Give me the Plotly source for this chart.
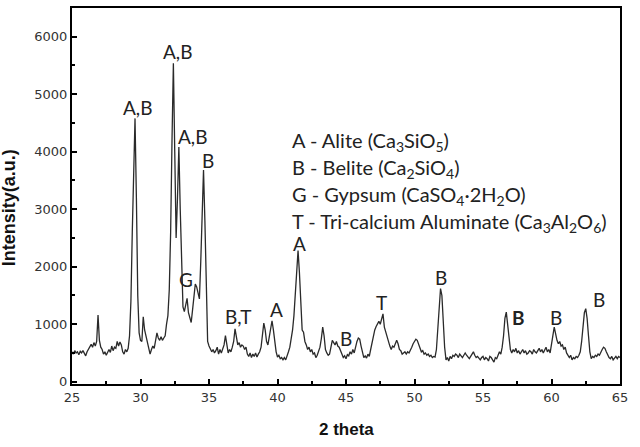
import plotly.graph_objects as go

# XRD pattern
two_theta = [
    25.0, 25.1, 25.2, 25.3, 25.4, 25.5, 25.6, 25.7, 25.8, 25.9,
    26.0, 26.1, 26.2, 26.3, 26.4, 26.5, 26.6, 26.7, 26.8, 26.9,
    27.0, 27.1, 27.2, 27.3, 27.4, 27.5, 27.6, 27.7, 27.8, 27.9,
    28.0, 28.1, 28.2, 28.3, 28.4, 28.5, 28.6, 28.7, 28.8, 28.9,
    29.0, 29.1, 29.2, 29.3, 29.4, 29.5, 29.6, 29.7, 29.8, 29.9,
    30.0, 30.1, 30.2, 30.3, 30.4, 30.5, 30.6, 30.7, 30.8, 30.9,
    31.0, 31.1, 31.2, 31.3, 31.4, 31.5, 31.6, 31.7, 31.8, 31.9,
    32.0, 32.1, 32.2, 32.3, 32.4, 32.5, 32.6, 32.7, 32.8, 32.9,
    33.0, 33.1, 33.2, 33.3, 33.4, 33.5, 33.6, 33.7, 33.8, 33.9,
    34.0, 34.1, 34.2, 34.3, 34.4, 34.5, 34.6, 34.7, 34.8, 34.9,
    35.0, 35.1, 35.2, 35.3, 35.4, 35.5, 35.6, 35.7, 35.8, 35.9,
    36.0, 36.1, 36.2, 36.3, 36.4, 36.5, 36.6, 36.7, 36.8, 36.9,
    37.0, 37.1, 37.2, 37.3, 37.4, 37.5, 37.6, 37.7, 37.8, 37.9,
    38.0, 38.1, 38.2, 38.3, 38.4, 38.5, 38.6, 38.7, 38.8, 38.9,
    39.0, 39.1, 39.2, 39.3, 39.4, 39.5, 39.6, 39.7, 39.8, 39.9,
    40.0, 40.1, 40.2, 40.3, 40.4, 40.5, 40.6, 40.7, 40.8, 40.9,
    41.0, 41.1, 41.2, 41.3, 41.4, 41.5, 41.6, 41.7, 41.8, 41.9,
    42.0, 42.1, 42.2, 42.3, 42.4, 42.5, 42.6, 42.7, 42.8, 42.9,
    43.0, 43.1, 43.2, 43.3, 43.4, 43.5, 43.6, 43.7, 43.8, 43.9,
    44.0, 44.1, 44.2, 44.3, 44.4, 44.5, 44.6, 44.7, 44.8, 44.9,
    45.0, 45.1, 45.2, 45.3, 45.4, 45.5, 45.6, 45.7, 45.8, 45.9,
    46.0, 46.1, 46.2, 46.3, 46.4, 46.5, 46.6, 46.7, 46.8, 46.9,
    47.0, 47.1, 47.2, 47.3, 47.4, 47.5, 47.6, 47.7, 47.8, 47.9,
    48.0, 48.1, 48.2, 48.3, 48.4, 48.5, 48.6, 48.7, 48.8, 48.9,
    49.0, 49.1, 49.2, 49.3, 49.4, 49.5, 49.6, 49.7, 49.8, 49.9,
    50.0, 50.1, 50.2, 50.3, 50.4, 50.5, 50.6, 50.7, 50.8, 50.9,
    51.0, 51.1, 51.2, 51.3, 51.4, 51.5, 51.6, 51.7, 51.8, 51.9,
    52.0, 52.1, 52.2, 52.3, 52.4, 52.5, 52.6, 52.7, 52.8, 52.9,
    53.0, 53.1, 53.2, 53.3, 53.4, 53.5, 53.6, 53.7, 53.8, 53.9,
    54.0, 54.1, 54.2, 54.3, 54.4, 54.5, 54.6, 54.7, 54.8, 54.9,
    55.0, 55.1, 55.2, 55.3, 55.4, 55.5, 55.6, 55.7, 55.8, 55.9,
    56.0, 56.1, 56.2, 56.3, 56.4, 56.5, 56.6, 56.7, 56.8, 56.9,
    57.0, 57.1, 57.2, 57.3, 57.4, 57.5, 57.6, 57.7, 57.8, 57.9,
    58.0, 58.1, 58.2, 58.3, 58.4, 58.5, 58.6, 58.7, 58.8, 58.9,
    59.0, 59.1, 59.2, 59.3, 59.4, 59.5, 59.6, 59.7, 59.8, 59.9,
    60.0, 60.1, 60.2, 60.3, 60.4, 60.5, 60.6, 60.7, 60.8, 60.9,
    61.0, 61.1, 61.2, 61.3, 61.4, 61.5, 61.6, 61.7, 61.8, 61.9,
    62.0, 62.1, 62.2, 62.3, 62.4, 62.5, 62.6, 62.7, 62.8, 62.9,
    63.0, 63.1, 63.2, 63.3, 63.4, 63.5, 63.6, 63.7, 63.8, 63.9,
    64.0, 64.1, 64.2, 64.3, 64.4, 64.5, 64.6, 64.7, 64.8, 64.9,
    65.0,
]

intensity = [
    520, 480, 540, 500, 520, 470, 530, 500, 540, 480,
    450, 520, 560, 610, 650, 600, 680, 620, 700, 1160,
    720, 600, 560, 480, 520, 460, 500, 560, 510, 620,
    540, 600, 580, 700, 620, 690, 640, 520, 480, 560,
    520, 580, 800, 1400, 2600, 3900, 4580, 3200, 1500, 850,
    720, 700, 1130, 900, 780, 700, 560, 480, 560, 620,
    580, 720, 850, 760, 720, 780, 720, 760, 800, 1000,
    1150, 1600, 2600, 4200, 5540, 4000, 2500, 3200, 4080, 3000,
    1900, 1300, 1220, 1350, 1450, 1200, 1100, 1030, 1250, 1500,
    1700, 1650, 1550, 1440, 2100, 3000, 3680, 2800, 1500, 700,
    620, 580, 520, 560, 500, 540, 600, 480, 560, 500,
    580, 640, 800, 620, 500, 560, 520, 600, 700, 920,
    780, 640, 680, 600, 640, 620, 560, 600, 480, 440,
    500, 420, 480, 440, 500, 430, 480, 520, 600, 850,
    1020, 900, 700, 640, 800, 980, 1060, 900, 700, 520,
    430, 460, 400, 420, 380, 420, 380, 440, 520, 600,
    750, 900, 1150, 1500, 1900, 2280, 1900, 1300, 900, 860,
    700, 640, 560, 600, 520, 560, 480, 500, 420, 460,
    520, 600, 750, 950, 800, 560, 500, 460, 480, 600,
    720, 680, 640, 700, 620, 600, 520, 480, 420, 450,
    400, 470, 450, 520, 480, 560, 500, 620, 700, 760,
    740, 620, 500, 420, 450, 410, 480, 440, 560, 680,
    800, 900, 960, 1000, 1050, 1000, 1120, 1180, 950, 860,
    800, 700, 620, 560, 620, 600, 680, 720, 660, 560,
    540, 480, 500, 520, 480, 520, 500, 540, 600, 660,
    700, 740, 720, 640, 560, 520, 540, 480, 500, 460,
    480, 440, 460, 420, 440, 430, 560, 900, 1300, 1620,
    1500, 1000, 600, 380, 420, 360, 440, 400, 460, 440,
    480, 460, 420, 480, 440, 420, 460, 500, 460, 420,
    400, 440, 480, 520, 460, 420, 440, 400, 380, 420,
    440, 380, 420, 400, 360, 440, 420, 380, 340, 420,
    400, 460, 520, 480, 600, 800, 1100, 1210, 1000, 700,
    560, 500, 560, 520, 580, 500, 540, 480, 520, 560,
    500, 540, 480, 500, 540, 520, 480, 560, 520, 500,
    540, 580, 520, 560, 500, 540, 600, 520, 560, 500,
    620, 800, 950, 820, 720, 660, 700, 620, 640, 560,
    600, 500, 460, 420, 460, 380, 420, 400, 440, 420,
    460, 520, 700, 1000, 1200, 1270, 1100, 800, 520, 400,
    440, 420, 460, 440, 480, 460, 520, 560, 600, 580,
    520, 460, 420, 400, 440, 380, 420, 440, 400, 440,
    420,
]

# phase labels above the peaks
label_text = ["A,B", "A,B", "A,B", "B", "G", "B,T", "A", "A", "B", "T", "B", "<b>B</b>", "B", "B"]
label_x = [29.8, 32.7, 33.8, 34.9, 33.3, 37.1, 39.9, 41.6, 45.0, 47.6, 51.9, 57.6, 60.3, 63.5]
label_y = [4770, 5740, 4270, 3840, 1770, 1130, 1250, 2400, 750, 1370, 1820, 1110, 1110, 1430]

legend_lines = [
    "A - Alite (Ca<sub>3</sub>SiO<sub>5</sub>)",
    "B - Belite (Ca<sub>2</sub>SiO<sub>4</sub>)",
    "G - Gypsum (CaSO<sub>4</sub>·2H<sub>2</sub>O)",
    "T - Tri-calcium Aluminate (Ca<sub>3</sub>Al<sub>2</sub>O<sub>6</sub>)",
]
legend_y = [4170, 3700, 3235, 2775]

fig = go.Figure()
fig.add_trace(go.Scatter(x=two_theta, y=intensity, mode="lines",
                         line=dict(color="#2a2a2a", width=1.3), showlegend=False))

for t, x, y in zip(label_text, label_x, label_y):
    fig.add_annotation(x=x, y=y, text=t, showarrow=False,
                       font=dict(family="Lato", size=19, color="#222"),
                       xanchor="center", yanchor="middle")

for t, y in zip(legend_lines, legend_y):
    fig.add_annotation(x=40.9, y=y, text=t, showarrow=False,
                       font=dict(family="Lato", size=20, color="#222"),
                       xanchor="left", yanchor="middle")

# axis titles
fig.add_annotation(x=0.5, y=-0.122, xref="paper", yref="paper", text="<b>2 theta</b>",
                   showarrow=False, font=dict(family="Liberation Sans", size=17, color="#111"),
                   xanchor="center", yanchor="middle")
fig.add_annotation(x=-0.115, y=0.47, xref="paper", yref="paper", text="<b>Intensity(a.u.)</b>",
                   showarrow=False, textangle=-90,
                   font=dict(family="Liberation Sans", size=18, color="#111"),
                   xanchor="center", yanchor="middle")

axis_common = dict(showline=True, linecolor="black", linewidth=2, mirror=True,
                   ticks="inside", ticklen=5, tickwidth=1.5, tickcolor="black",
                   showgrid=False, zeroline=False,
                   tickfont=dict(family="DejaVu Sans", size=13, color="#333"))

fig.update_xaxes(range=[25, 65], tickvals=[25, 30, 35, 40, 45, 50, 55, 60, 65],
                 minor=dict(ticks="inside", ticklen=3, tickwidth=1.5, tickcolor="black", dtick=2.5),
                 **axis_common)
fig.update_yaxes(range=[-40, 6500], tickvals=[0, 1000, 2000, 3000, 4000, 5000, 6000],
                 minor=dict(ticks="inside", ticklen=3, tickwidth=1.5, tickcolor="black", dtick=500),
                 **axis_common)

fig.update_layout(width=640, height=447, margin=dict(l=72, r=20, t=6, b=63),
                  plot_bgcolor="white", paper_bgcolor="white")

fig.write_html("out.html", config={"displayModeBar": False},
               post_script="document.body.style.margin='0';")
